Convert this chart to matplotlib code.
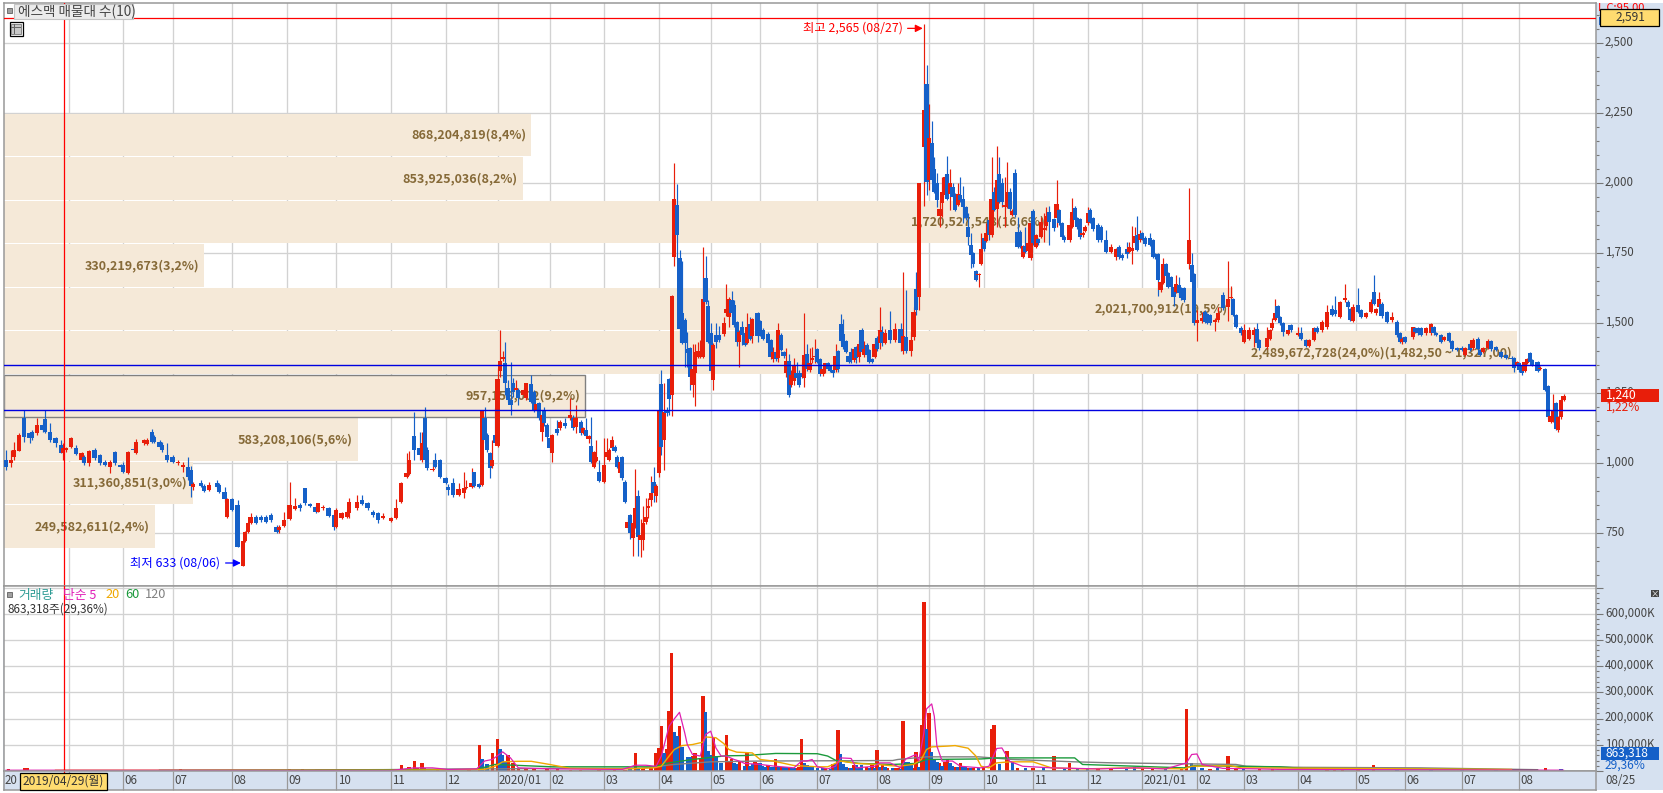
import matplotlib
matplotlib.use('Agg')
import matplotlib.pyplot as plt
from matplotlib.patches import Rectangle
from matplotlib.ticker import FuncFormatter, MultipleLocator
from matplotlib.transforms import ScaledTranslation

plt.rcParams['font.family'] = ['Noto Sans CJK KR', 'DejaVu Sans']

W, H = 1663, 793

# 일봉 (x = 거래일 순번)
days = [1,3,4,6,8,10,11,13,15,16, 18,20,22,23,24,26,28,30,31,33,
    35,37,39,41,43,45,46,48,50,51, 54,55,57,58,60,61,63,65,67,69,
    71,72,73,76,77,79,82,83,85,86, 88,90,92,93,94,95,97,99,101,103,
    105,106,108,110,112,114,116,118,120,121, 123,125,127,128,130,132,133,136,138,140,
    142,144,146,149,151,153,155,156,158,160, 161,162,163,165,166,168,170,171,
    173,175,177,178,180,181,183,184,185,186, 187,188,189,190,191,192,193,194,195,196,
    197,198,200,201,203,204,205,206,207,208, 209,210,211,213,214,216,218,219,220,222,
    223,224,225,226,227,228,229,231,232,233, 234,235,236,237,238,239,240,241,242,243,
    244,245,246,247,248,249,250,251,252,253, 254,255,256,257,258,259,260,261,262,263,
    264,265,266,267,268,269,270,271,272,273, 274,275,277,278,279,280,281,282,283,
    284,285,286,287,288,290,291,292,294,295, 296,297,298,299,300,301,302,303,304,305,
    306,307,308,309,310,311,312,313,314,315, 316,317,318,319,320,321,322,323,324,325,
    326,327,328,329,330,331,332,333,334,335, 336,337,
    338,339,341,343,345,346,347,349,350,351, 352,354,355,356,357,358,359,360,361,362,
    363,364,365,366,367,368,369,370,371,372, 373,374,375,376,377,378,379,380,381,382,
    383,384,385,386,387,388,389,390,391,392, 393,394,395,396,397,398,399,400,401,402,
    404,405,406,407,408,410,411,412,413,414, 415,416,417,418,419,421,422,424,426,428,429,
    430,432,433,434,435,436,437,438,439,441, 442,443,444,445,446,447,448,449,450,451,
    452,453,454,456,457,458,459,461,462,463, 464,466,467,469,471,472,473,474,476,477,
    479,481,482,483,486,487,488,489,490,491, 492,494,495,498,499,501,502,504,505,507,
    509,511,512,514,516,517,518,519,521,522, 524,526,527,528,529,530,532,534,536,537,
    538,539,542,543,544,545,547,549,550,551, 553,554,556,557,559,561,562,564,565,567,
    568,569,571,572,574,576,578,580,581,582, 583,584,585,586,587,588,590,591,593,594,
    595,596,597,598,599,600]
opens = [1012,1000,1024,1045,1161,1107,1113,1107,1137,1157, 1113,1089,1065,1038,1048,1060,1054,1012,1024,1000,
    1048,1030,1006,986,1042,994,994,964,1052,1036, 1071,1069,1113,1095,1077,1065,1030,1024,1000,986,
    986,976,914,929,919,905,929,923,899,810, 871,851,633,723,756,788,810,810,810,815,
    774,762,776,800,836,851,911,855,845,827, 839,839,815,772,804,807,821,839,869,857,
    827,821,804,795,804,863,952,962,1098,1054, 1012,1161,1048,976,1012,1012,946,914,
    929,887,893,911,917,968,925,923,1161,1101, 1036,991,1101,1062,1331,1372,1357,1268,1226,1286,
    1262,1262,1244,1232,1282,1256,1191,1214,1113,1191, 1137,1089,1036,1122,1125,1145,1161,1161,1131,1149,
    1110,1119,1086,1062,988,1010,970,935,1024,1012, 1056,1060,1024,964,1022,935,768,816,733,780,
    884,727,727,792,840,869,935,884,965,1283, 1084,1190,1301,1244,1738,1922,1732,1536,1512,1408,
    1411,1280,1321,1381,1381,1381,1661,1562,1464,1298, 1458,1458,1462,1536,1524,1583,1565,1506,1435,
    1486,1464,1431,1498,1455,1538,1508,1476,1462,1440, 1371,1399,1375,1458,1399,1324,1365,1280,1295,1324,
    1324,1321,1306,1390,1333,1369,1379,1407,1371,1319, 1336,1359,1348,1333,1333,1401,1498,1462,1438,1383,
    1399,1369,1414,1379,1476,1387,1423,1405,1371,1381, 1449,1431,
    1470,1430,1475,1440,1480,1400,1450,1400,1450,1622, 1596,2131,2357,2012,2143,2050,2000,1884,1931,1959,
    2034,1964,1986,1959,1923,1959,1943,1917,1845,1780, 1750,1687,1673,1712,1804,1794,1869,1816,1970,1907,
    2034,2003,1917,1917,1970,1887,2036,1828,1828,1736, 1776,1760,1732,1901,1774,1800,1810,1834,1848,1899,
    1872,1875,1905,1857,1810,1798,1845,1911,1875,1872, 1816,1831,1857,1905,1875,1851,1845,1798,1756,1736,1774,
    1744,1764,1756,1759,1788,1815,1798,1824,1806,1804, 1798,1748,1748,1619,1643,1712,1681,1664,1631,1613,
    1637,1625,1625,1712,1708,1676,1500,1509,1542,1533, 1530,1506,1512,1601,1557,1589,1586,1530,1482,1435,
    1446,1458,1479,1441,1417,1446,1482,1512,1562,1524, 1500,1462,1494,1458,1464,1441,1419,1441,1485,1476,
    1488,1550,1548,1524,1583,1577,1550,1509,1565,1548, 1524,1542,1613,1536,1560,1571,1539,1512,1506,1464,
    1434,1450,1450,1482,1482,1482,1464,1464,1488,1466, 1458,1440,1464,1438,1413,1413,1387,1428,1411,1446,
    1405,1399,1411,1438,1417,1399,1387,1378,1375,1349, 1357,1349,1331,1359,1395,1369,1361,1337,1336,1276,
    1149,1152,1214,1119,1164,1226]
highs = [1048,1048,1077,1107,1190,1113,1119,1161,1143,1190, 1143,1095,1083,1071,1060,1095,1065,1042,1030,1048,
    1054,1033,1012,1012,1045,998,1006,1045,1060,1086, 1086,1089,1121,1101,1083,1077,1071,1030,1012,1006,
    1024,990,934,940,925,934,940,928,917,875, 875,869,723,760,792,821,815,815,815,821,
    778,778,827,934,875,857,913,860,850,860, 850,843,821,839,825,832,875,887,887,862,
    832,825,821,808,871,934,1036,1045,1184,1113, 1113,1200,1060,1012,1036,1014,950,925,
    947,929,970,941,982,970,930,1190,1202,1110, 1040,1084,1196,1339,1476,1400,1435,1297,1363,1304,
    1297,1268,1270,1288,1316,1262,1215,1220,1178,1203, 1143,1092,1106,1155,1155,1161,1232,1173,1208,1155,
    1130,1161,1100,1165,1045,1084,1012,1089,1089,1054, 1098,1065,1030,1010,1026,940,810,820,800,979,
    903,800,846,875,875,955,988,925,1192,1333, 1286,1200,1305,1600,2074,1997,1762,1724,1520,1470,
    1415,1426,1426,1435,1440,1774,1740,1583,1502,1430, 1502,1490,1524,1640,1595,1617,1583,1510,1476,
    1510,1470,1536,1524,1518,1542,1512,1482,1470,1445, 1414,1407,1500,1464,1402,1411,1390,1333,1375,1363,
    1333,1363,1536,1426,1411,1414,1446,1411,1375,1345, 1360,1363,1351,1336,1426,1405,1533,1515,1442,1390,
    1411,1414,1420,1440,1482,1438,1430,1410,1376,1440, 1455,1559,
    1490,1480,1545,1500,1500,1685,1620,1470,1560,1685, 2000,2569,2423,2283,2223,2093,2036,1941,2024,2030,
    2098,2051,2000,1965,2000,2024,1991,1920,1893,1822, 1755,1690,1680,1824,1810,1857,1881,2093,1986,2133,
    2093,2018,2024,2075,1982,1908,2050,1881,1835,1780, 1845,1790,1862,1907,1820,1805,1881,1893,1917,1919,
    1878,2012,1910,1862,1815,1875,1947,1919,1880,1878, 1830,1850,1917,1911,1880,1857,1850,1834,1785,1770,1780,
    1750,1792,1792,1847,1845,1883,1835,1828,1812,1824, 1803,1752,1752,1655,1732,1714,1685,1670,1635,1673,
    1664,1630,1630,1982,1750,1680,1548,1542,1548,1538, 1535,1518,1560,1613,1724,1633,1590,1535,1490,1498,
    1488,1488,1500,1446,1488,1480,1518,1586,1566,1528, 1505,1480,1497,1488,1488,1445,1445,1488,1490,1512,
    1565,1565,1598,1580,1640,1582,1555,1571,1628,1553, 1540,1586,1672,1555,1613,1576,1544,1542,1512,1470,
    1450,1455,1488,1486,1486,1486,1486,1500,1492,1470, 1462,1456,1468,1442,1417,1418,1415,1432,1447,1450,
    1408,1417,1446,1442,1420,1403,1391,1382,1379,1367, 1361,1353,1367,1375,1399,1372,1365,1346,1339,1280,
    1172,1248,1218,1168,1230,1248]
lows = [976,988,1012,1045,1077,1071,1083,1101,1113,1107, 1077,1060,1036,1012,1042,1054,1030,1006,994,990,
    1012,994,990,967,994,982,964,962,1042,1033, 1065,1065,1071,1071,1054,1042,1006,1000,994,970,
    940,881,905,914,898,900,912,895,863,804, 828,702,633,720,752,784,782,792,788,791,
    752,752,772,798,832,830,851,844,822,825, 835,808,762,768,800,803,804,835,850,835,
    810,788,800,791,800,858,946,958,1012,1012, 1006,1006,976,972,982,946,926,887,
    881,883,875,908,913,917,913,920,1072,1040, 946,982,1065,1058,1310,1365,1244,1220,1173,1238,
    1255,1208,1240,1228,1215,1185,1187,1155,1080,1135, 1090,1048,1006,1100,1120,1128,1156,1120,1107,1100,
    1105,1095,1072,1000,985,1005,934,930,1020,1008, 1050,1040,982,952,940,857,762,730,668,770,
    668,664,690,785,805,846,863,863,950,1030, 976,1170,1173,1169,1705,1732,1435,1425,1345,1345,
    1262,1238,1206,1375,1375,1375,1571,1430,1325,1262, 1411,1435,1455,1525,1488,1530,1488,1420,1345,
    1423,1419,1428,1440,1431,1435,1455,1440,1425,1372, 1363,1366,1363,1400,1378,1310,1238,1274,1280,1298,
    1274,1305,1274,1330,1328,1357,1357,1358,1312,1312, 1324,1332,1327,1310,1328,1328,1430,1410,1393,1357,
    1360,1363,1357,1363,1393,1380,1380,1358,1357,1375, 1400,1410,
    1420,1425,1430,1435,1400,1390,1395,1385,1440,1530, 1548,1919,1959,1976,2006,1965,1917,1845,1881,1950,
    1940,1905,1948,1900,1918,1935,1857,1870,1780,1697, 1700,1650,1631,1709,1760,1790,1798,1810,1900,1845,
    1930,1917,1845,1912,1899,1882,1880,1770,1770,1732, 1750,1755,1728,1780,1770,1780,1805,1790,1834,1780,
    1830,1845,1850,1804,1790,1790,1840,1860,1838,1800, 1810,1826,1850,1858,1830,1790,1790,1750,1750,1726,1730,
    1728,1732,1750,1712,1780,1757,1792,1798,1778,1775, 1733,1730,1598,1612,1640,1660,1625,1625,1562,1608,
    1600,1585,1575,1696,1644,1494,1438,1500,1500,1498, 1495,1473,1506,1548,1510,1585,1525,1484,1460,1430,
    1440,1417,1424,1405,1410,1442,1478,1508,1514,1496, 1456,1458,1470,1455,1440,1415,1414,1436,1465,1470,
    1480,1525,1528,1520,1578,1552,1508,1505,1536,1520, 1520,1538,1565,1530,1555,1520,1500,1505,1452,1430,
    1428,1430,1445,1465,1460,1454,1460,1460,1460,1454, 1430,1436,1434,1402,1400,1400,1383,1400,1406,1402,
    1383,1395,1407,1402,1400,1377,1372,1367,1327,1345, 1328,1316,1327,1355,1357,1347,1327,1333,1258,1160,
    1145,1148,1118,1113,1160,1222]
closes = [986,1012,1048,1101,1095,1089,1089,1137,1119,1113, 1083,1071,1038,1054,1056,1089,1033,1036,1000,1045,
    1018,1000,994,1006,1002,986,970,1042,1048,1077, 1083,1083,1077,1077,1060,1048,1012,1006,1006,994,
    952,919,926,919,902,923,917,899,871,871, 833,702,723,756,788,810,786,798,792,798,
    756,774,798,851,848,839,857,848,827,857, 845,812,774,833,821,827,863,863,855,839,
    815,798,812,804,839,929,964,1012,1048,1030, 1071,1012,982,980,988,952,931,905,
    887,907,911,917,931,919,917,1188,1084,1048, 982,1012,1072,1300,1366,1381,1286,1226,1209,1256,
    1268,1232,1262,1286,1220,1191,1211,1161,1173,1143, 1095,1054,1101,1107,1149,1133,1173,1125,1161,1107,
    1125,1098,1098,1006,1042,1024,938,994,1040,1048, 1084,1044,988,1006,947,863,792,750,786,840,
    738,745,786,810,848,893,893,919,1188,1057, 1182,1179,1230,1598,1946,1815,1479,1429,1429,1395,
    1310,1337,1399,1401,1402,1587,1577,1435,1331,1423, 1435,1441,1500,1551,1586,1536,1494,1435,1470,
    1458,1423,1486,1446,1514,1455,1462,1446,1431,1379, 1399,1371,1476,1405,1383,1365,1244,1315,1349,1304,
    1280,1310,1387,1336,1357,1375,1383,1363,1319,1337, 1357,1336,1331,1321,1383,1336,1438,1417,1399,1363,
    1369,1410,1375,1426,1399,1407,1387,1363,1363,1426, 1407,1476,
    1430,1465,1440,1480,1430,1455,1400,1440,1540,1548, 2000,2262,2006,2161,2012,1970,1941,1907,1970,2022,
    1944,2000,1953,1905,1961,1941,1917,1875,1810,1744, 1712,1655,1676,1766,1765,1822,1816,1943,1905,2012,
    1935,1935,1923,1970,1907,1901,1887,1774,1776,1776, 1756,1786,1857,1786,1816,1786,1863,1840,1884,1863,
    1840,1926,1857,1810,1798,1851,1899,1869,1843,1810, 1822,1843,1893,1863,1836,1798,1798,1756,1774,1765,1736,
    1732,1748,1774,1768,1813,1762,1821,1803,1783,1780, 1738,1736,1655,1649,1712,1669,1631,1631,1595,1640,
    1607,1589,1583,1798,1649,1500,1512,1518,1506,1502, 1500,1512,1536,1554,1586,1595,1530,1486,1464,1476,
    1476,1476,1429,1411,1447,1476,1500,1538,1518,1500, 1470,1476,1476,1467,1446,1419,1441,1482,1470,1506,
    1542,1530,1533,1577,1589,1557,1512,1559,1542,1524, 1536,1577,1569,1550,1586,1526,1506,1524,1458,1435,
    1446,1434,1486,1470,1464,1458,1482,1498,1464,1458, 1434,1452,1438,1407,1405,1405,1411,1405,1440,1407,
    1387,1413,1438,1407,1405,1381,1375,1371,1339,1363, 1333,1321,1363,1371,1361,1351,1331,1342,1262,1164,
    1169,1188,1121,1164,1226,1240]

# 거래량 (단위 K)
red_days = [2,8,9,49,51,68,85,91,93,110, 115,128,131,151,153,155,156,158,159,161,
    162,167,179,183,188,190,194,196,198,201, 204,209,213,218,222,229,235,239,243,246,
    249,251,252,253,255,256,257,260,265,266, 268,269,273,278,279,280,283,286,289,290,
    294,297,299,302,305,306,307,316,319,321, 325,327,332,334,336,338,340,343,344,346,
    350,351,353,354,356,360,362,363,366,368, 371,373,377,380,381,386,390,396,404,410,
    421,426,438,442,453,455,464,471,474,483, 488,509,512,515,521,527,593,600]
red_vol = [6,12,10,5,5,6,5,5,5,6, 6,5,5,5,21,8,15,40,10,32,
    12,6,5,100,70,124,62,30,8,8, 6,6,7,5,5,5,5,5,70,12,
    12,70,86,172,85,230,452,172,59,67, 47,288,128,139,40,47,36,67,36,30,
    21,44,14,10,12,14,124,10,25,155, 10,21,14,21,82,21,12,10,12,189,
    12,74,177,646,223,32,36,44,14,29, 10,12,14,162,174,78,12,10,56,32,
    8,6,12,6,6,235,8,59,10,6, 6,5,5,5,13,21,10,1]
blue_days = [184,186,191,192,193,241,244,254,258,259, 261,263,264,270,271,272,274,276,281,282,
    285,287,288,291,292,293,295,296,298,300, 301,303,304,308,309,310,311,313,315,318,
    320,322,323,324,326,328,329,330,333,335, 337,339,342,345,347,348,349,352,355,357,
    358,359,361,364,365,367,369,370,372,375, 383,388,393,400,408,413,417,432,435,447,
    457,458,461,467,477,536,549,561,574,599]
blue_vol = [45,25,85,60,35,8,10,67,147,135, 93,52,52,227,78,60,59,32,32,28,
    20,20,25,29,20,14,14,14,17,17, 17,10,10,29,22,17,17,10,10,8,
    25,63,25,17,12,21,14,21,12,10, 14,14,10,8,36,33,25,14,162,74,
    44,36,20,29,18,14,14,14,12,10, 25,35,12,10,12,10,12,8,14,6,
    30,20,12,10,6,4,3,3,3,6]

# 이동평균
ma5_days = [1,60,149,158,165,171,182,185,188,192,195,198, 211,238,243,247,251,253,256,258,260,262,
    263,265,268,270,272,274,276,278,281,283, 285,291,297,304,307,309,311,313,317,320,
    322,326,328,335,337,341,345,347,351,352, 354,355,357,358,359,361,365,368,376,379,
    382,384,387,392,403,421,436,447,455,457, 459,461,469,483,491,600]
ma5_vals = [3,3,2,12,12,6,8,38,44,73,50,12, 8,6,22,22,18,57,171,199,224,146,
    101,63,57,139,152,88,57,57,44,38, 29,25,18,12,38,38,44,16,8,18,
    50,48,12,18,31,31,12,46,63,38, 146,237,256,209,95,38,38,18,12,18,
    86,88,37,18,12,8,12,8,31,63, 65,25,10,8,6,3]
ma20_days = [20,151,185,189,192,198,203,210,218,240,250, 253,256,258,261,265,269,270,274,277,279,
    282,288,291,296,304,313,317,322,328,336, 344,350,353,355,357,363,366,371,374,376,
    379,382,387,396,403,416,432,454,457,472, 476,580]
ma20_vals = [3,3,6,18,35,37,37,25,10,8,12, 18,57,82,97,101,110,130,127,105,82,
    72,69,44,38,21,16,16,38,29,25, 18,25,44,82,92,95,97,87,57,18,
    12,31,35,35,12,8,12,8,18,20, 12,6]
ma60_days = [60,182,189,211,242,250,256,265,274,278,285, 297,313,317,320,329,342,351,355,376,382,
    412,415,454,458,491,500,540,590]
ma60_vals = [3,6,25,16,16,16,31,44,54,58,59, 67,66,57,41,29,25,29,44,46,50,
    50,25,12,20,16,10,8,4]
ma120_days = [120,214,245,258,272,291,342,344,355,375,388, 412,427,474,478,491,500,545,590]
ma120_vals = [3,10,10,25,35,38,40,44,54,54,44, 35,31,25,18,15,14,12,5]

# 매물대 (아래에서 위로)
band_lows = [697.5,853,1008.5,1164,1319.5,1475,1630.5,1786,1941.5,2097]
band_shares = [249582611,311360851,583208106,957158002,2489672728,2021700912,330219673,1720527548,853925036,868204819]
band_labels = ['249,582,611(2,4%)', '311,360,851(3,0%)', '583,208,106(5,6%)', '957,158,002(9,2%)',
    '2,489,672,728(24,0%)(1,482,50 ~ 1,327,00)', '2,021,700,912(19,5%)', '330,219,673(3,2%)',
    '1,720,527,548(16,6%)', '853,925,036(8,2%)', '868,204,819(8,4%)']

month_days = [25,46,65,88,109,128,149,170,190,210,231,252,272,291,313,336,356,377,396,417,438,459,477,498,520,539,561,583]
month_labels = ['', '06','07','08','09','10','11','12','2020/01','02','03','04','05','06','07','08','09','10','11','12',
    '2021/01','02','03','04','05','06','07','08']

RED = '#E81E0A'
BLUE = '#1560C8'
GRID = '#D2D2D2'
EDGE = '#999999'
STRIP = '#D6E1F0'
YELLOW = '#FFDC70'
BROWN = '#866A38'
TEXT = '#454545'

fig = plt.figure(figsize=(W / 100, H / 100), dpi=100, facecolor='white')


def axes_px(x0, y0, x1, y1):
    return fig.add_axes([x0 / W, 1 - y1 / H, (x1 - x0) / W, (y1 - y0) / H])


def rect(x0, y0, x1, y1, **kw):
    fig.add_artist(Rectangle((x0 / W, 1 - y1 / H), (x1 - x0) / W, (y1 - y0) / H,
                             transform=fig.transFigure, **kw))


def label(x, y, s, **kw):
    kw.setdefault('fontsize', 8.3)
    kw.setdefault('color', TEXT)
    fig.text(x / W, 1 - y / H, s, va='center', zorder=7, **kw)


rect(3, 586, 1663, 790, facecolor=STRIP, edgecolor='none', zorder=-1)
rect(1596, 3, 1663, 586, facecolor=STRIP, edgecolor='none', zorder=-1)

ax = axes_px(3.5, 3, 1596, 586)
ax_v = axes_px(3.5, 586, 1596, 771)
ax_d = axes_px(3.5, 771, 1596, 790)

for a in (ax, ax_v):
    a.set_xlim(0, 612.5)
    a.set_xticks(month_days)
    a.tick_params(axis='x', length=0, labelbottom=False)
    a.grid(True, color=GRID, lw=0.95)
    a.set_axisbelow(True)
    a.yaxis.tick_right()
    a.tick_params(axis='y', which='major', length=5, width=0.8, color='#777777', labelsize=8.3, labelcolor=TEXT, pad=1.5)
    a.tick_params(axis='y', which='minor', length=2, width=0.8, color='#777777')
    for s in a.spines.values():
        s.set_color(EDGE)
        s.set_linewidth(1.1)

# 가격 패널
ax.set_ylim(561.8, 2644.6)
ax.yaxis.set_major_locator(MultipleLocator(250))
ax.yaxis.set_minor_locator(MultipleLocator(50))
ax.yaxis.set_major_formatter(FuncFormatter(lambda v, p: f'{v:,.0f}' if v >= 750 and v <= 2500 else ''))

days_per_share = 6.08e-7 / 2.6
for i, (low, shares, txt) in enumerate(zip(band_lows, band_shares, band_labels, strict=True)):
    width = shares * days_per_share
    ax.barh(low, width, height=152.5, align='edge', color='#F5E9D8', zorder=1.5,
            edgecolor='#808080' if i == 3 else 'none', linewidth=1.0 if i == 3 else 0)
    ax.text(width - 2, low + 76, txt, ha='right', va='center', color=BROWN,
            fontsize=9.05, fontweight='bold', zorder=2)

for d, o, h, l, c in zip(days, opens, highs, lows, closes, strict=True):
    col = RED if c >= o else BLUE
    ax.vlines(d, l, h, color=col, lw=0.85, zorder=3)
    ax.bar(d, abs(c - o), bottom=min(o, c), width=1.6, color=col, zorder=3.1)

ax.axhline(1350, color='#0000E0', lw=1.0, zorder=4)
ax.axhline(1189, color='#0000E0', lw=1.0, zorder=4)
ax.axhline(2591, color='#FF0000', lw=0.9, zorder=5)
ax.axvline(23.3, color='#FF0000', lw=0.9, zorder=5)

ax.annotate('최고 2,565 (08/27)', xy=(353.6, 2554), xytext=(-14.5, 0), textcoords='offset points',
            ha='right', va='center', color='#FF0000', fontsize=8.9, zorder=6)
ax.annotate('', xy=(353.6, 2554), xytext=(-11, 0), textcoords='offset points', zorder=6,
            arrowprops=dict(arrowstyle='-|>', color='#FF0000', lw=0.9, shrinkA=0, shrinkB=0, mutation_scale=11))
ax.annotate('최저 633 (08/06)', xy=(91.3, 644), xytext=(-15, 0), textcoords='offset points',
            ha='right', va='center', color='#0000FF', fontsize=8.9, zorder=6)
ax.annotate('', xy=(91.3, 644), xytext=(-11, 0), textcoords='offset points', zorder=6,
            arrowprops=dict(arrowstyle='-|>', color='#0000FF', lw=0.9, shrinkA=0, shrinkB=0, mutation_scale=11))

# 거래량 패널
ax_v.set_ylim(0, 706000)
ax_v.yaxis.set_major_locator(MultipleLocator(100000))
ax_v.yaxis.set_minor_locator(MultipleLocator(20000))
ax_v.yaxis.set_major_formatter(FuncFormatter(lambda v, p: f'{v:,.0f}K' if 0 < v <= 600000 else ''))
ax_v.bar(red_days, [v * 1000 for v in red_vol], width=1.3, color=RED, zorder=3)
ax_v.bar(blue_days, [v * 1000 for v in blue_vol], width=1.3, color=BLUE, zorder=3)
ax_v.plot(ma120_days, [v * 1000 for v in ma120_vals], color='#808080', lw=1.0, zorder=4)
ax_v.plot(ma60_days, [v * 1000 for v in ma60_vals], color='#1C9A3C', lw=1.0, zorder=4.1)
ax_v.plot(ma20_days, [v * 1000 for v in ma20_vals], color='#F0A800', lw=1.0, zorder=4.2)
ax_v.plot(ma5_days, [v * 1000 for v in ma5_vals], color='#E020B0', lw=0.9, zorder=4.3)
ax_v.axvline(23.3, color='#FF0000', lw=0.9, zorder=5)

# 눈금 글자를 조금 위로
up = ScaledTranslation(0, 1.8 / 72, fig.dpi_scale_trans)
for a in (ax, ax_v):
    for t in a.yaxis.get_majorticklabels():
        t.set_transform(t.get_transform() + up)

# 날짜 줄
ax_d.set_facecolor(STRIP)
ax_d.set_xlim(0, 612.5)
ax_d.set_ylim(0, 1)
ax_d.set_yticks([])
ax_d.set_xticks(month_days)
ax_d.tick_params(axis='x', direction='in', length=14, width=0.9, color=EDGE, labelbottom=False)
for s in ax_d.spines.values():
    s.set_color(EDGE)
    s.set_linewidth(1.1)
for d, txt in zip(month_days, month_labels, strict=True):
    ax_d.annotate(txt, xy=(d, 0.5), xytext=(1, 0), textcoords='offset points', va='center', fontsize=8.3, color=TEXT)
ax_d.axvline(23.3, color='#FF0000', lw=0.9, zorder=1)

label(5, 781, '20')
label(1605, 781, '08/25')

# 십자선 날짜/가격 박스
rect(20, 773, 107, 790, facecolor=YELLOW, edgecolor='black', lw=0.9, zorder=5)
label(23, 781.5, '2019/04/29(월)', fontsize=8.6, color='#333333')
label(1598, 8, 'L C:95,00', color='#FF0000', fontsize=8)
label(1598, 22, 'H', color=BLUE, fontsize=8)
rect(1600, 9, 1659, 26, facecolor=YELLOW, edgecolor='black', lw=0.9, zorder=8)
fig.text(1630 / W, 1 - 17.5 / H, '2,591', ha='center', va='center', fontsize=8.6, color='#333333', zorder=9)

# 현재가, 현재 거래량
rect(1601, 389, 1659, 402, facecolor=RED, edgecolor='none', zorder=5)
label(1606, 395.5, '1,240', color='white', fontsize=8.8)
label(1606, 407.5, '1,22%', color=RED, fontsize=8.6)
rect(1601, 747, 1659, 760, facecolor=BLUE, edgecolor='none', zorder=5)
label(1605, 753.5, '863,318', color='white', fontsize=8.6)
label(1605, 765.5, '29,36%', color=BLUE, fontsize=8.6)

# 머리글
rect(7, 8, 12, 13, facecolor='#A0A0A0', edgecolor='#707070', lw=0.7, zorder=5)
rect(14, 4, 133, 19, facecolor='#EBEBEB', edgecolor='#C4C4C4', lw=0.8, zorder=4)
label(18, 11.5, '에스맥 매물대 수(10)', fontsize=9.8)
rect(9.5, 22.5, 22.5, 35.5, facecolor='white', edgecolor='black', lw=0.9, zorder=5)
rect(11, 24, 21, 34, facecolor='#C8C8C8', edgecolor='#777777', lw=0.6, zorder=6)
rect(14, 24, 14.6, 34, facecolor='#666666', edgecolor='none', zorder=6.5)
rect(17.5, 24, 18.1, 34, facecolor='#666666', edgecolor='none', zorder=6.5)
rect(11, 27, 21, 27.6, facecolor='#666666', edgecolor='none', zorder=6.5)
rect(11, 30.5, 21, 31.1, facecolor='#666666', edgecolor='none', zorder=6.5)

rect(7, 592, 12, 597, facecolor='#A0A0A0', edgecolor='#707070', lw=0.7, zorder=5)
label(18, 595, '거래량', color='#2F9C95', fontsize=9.2)
label(63, 595, '단순 5', color='#E020B8', fontsize=9.2)
label(105, 595, '20', color='#F0A800', fontsize=9.2)
label(125, 595, '60', color='#1C9A3C', fontsize=9.2)
label(145, 595, '120', color='#808080', fontsize=9.2)
label(8, 609, '863,318주(29,36%)', color='#333333', fontsize=8.4)

rect(1651, 590, 1659, 597, facecolor='#444444', edgecolor='none', zorder=5)
fig.text(1655 / W, 1 - 593.5 / H, '×', ha='center', va='center', fontsize=6, color='white', zorder=7)

fig.savefig('out.png', dpi=100)
